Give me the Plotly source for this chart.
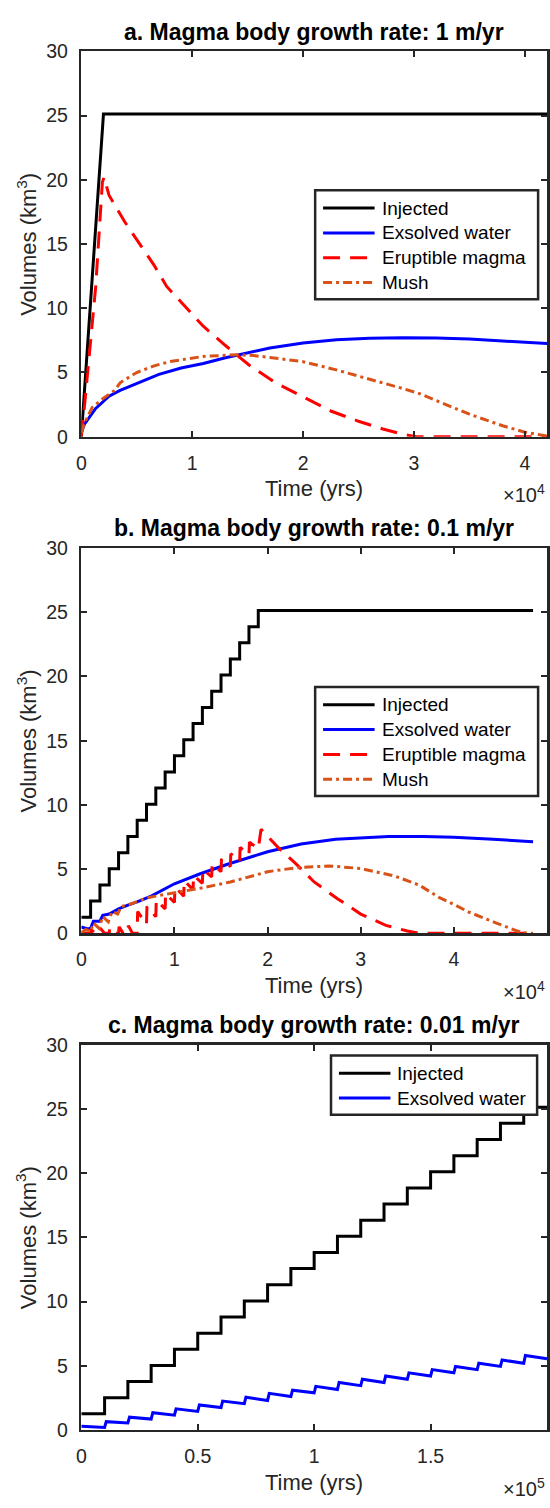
import plotly.graph_objects as go

# ---------------- data ----------------
# Panel a (1 m/yr)
inj_a_t = [0, 2000, 42000]
inj_a_v = [0, 25.13, 25.13]
wat_a_t = [0, 300, 1300, 2000, 2500, 3500, 5000, 7000, 9000, 11000, 13000, 15000, 17000, 20000, 23000, 26000, 29000, 32000, 35000, 38000, 42000]
wat_a_v = [0.3, 1.0, 2.2, 2.75, 3.15, 3.6, 4.15, 4.85, 5.35, 5.7, 6.15, 6.55, 6.9, 7.3, 7.55, 7.66, 7.7, 7.68, 7.6, 7.45, 7.25]
eru_a_t = [0, 300, 1300, 1900, 2050, 2500, 3900, 5500, 6600, 7700, 9300, 11000, 13000, 15100, 17500, 20000, 22500, 25000, 27200, 29200, 30200, 42000]
eru_a_v = [0, 2.5, 11.7, 19.8, 20.2, 18.8, 16.75, 14.7, 13.3, 11.7, 10.2, 8.6, 7.1, 5.6, 4.2, 3.1, 2.0, 1.2, 0.6, 0.15, 0, 0]
mush_a_t = [0, 300, 1000, 2000, 3000, 3500, 5000, 6500, 8000, 11000, 14000, 15500, 17000, 20000, 23000, 26000, 29000, 30500, 32000, 35000, 38000, 40000, 42000]
mush_a_v = [0.3, 1.1, 2.3, 3.0, 3.6, 4.2, 5.0, 5.5, 5.85, 6.25, 6.38, 6.32, 6.17, 5.84, 5.2, 4.5, 3.75, 3.35, 2.8, 1.75, 0.85, 0.35, 0.05]

# Panel b (0.1 m/yr)
inj_b_t = [0, 1000, 2000, 3000, 4000, 5000, 6000, 7000, 8000, 9000, 10000, 11000, 12000, 13000, 14000, 15000, 16000, 17000, 18000, 19000, 48500]
inj_b_v = [1.26, 2.51, 3.77, 5.03, 6.28, 7.54, 8.80, 10.05, 11.31, 12.57, 13.82, 15.08, 16.34, 17.59, 18.85, 20.11, 21.36, 22.62, 23.88, 25.13, 25.13]
wat_b_t = [0, 700, 1000, 1300, 2000, 2300, 3000, 4000, 5000, 6000, 7500, 10000, 12700, 15700, 20000, 23600, 27300, 30000, 33000, 36700, 40000, 44200, 48500]
wat_b_v = [0.5, 0.35, 0.4, 0.95, 0.95, 1.4, 1.5, 1.9, 2.2, 2.45, 2.9, 3.86, 4.62, 5.38, 6.35, 6.95, 7.32, 7.45, 7.55, 7.55, 7.48, 7.32, 7.14]
eru_b_t = [0, 1000, 1050, 1500, 2000, 2050, 2500, 3000, 3050, 3500, 4000, 4050, 4500, 5000, 5050, 5500,
           6000, 6050, 7000, 7050, 8000, 8050, 9000, 9050, 10000, 10050, 11000, 11050, 12000, 12050,
           13000, 13050, 14000, 14050, 15000, 15050, 16000, 16050, 17000, 17050, 18000, 18050, 19000, 19300,
           20200, 21300, 23000, 25000, 27500, 30000, 32700, 35000, 36400, 48500]
eru_b_v = [0, 0, 0.3, 0, 0, 0.4, 0, 0, 0.4, 0, 0, 0.5, 0, 0, 0.6, 0,
           0, 1.7, 0.7, 2.1, 1.3, 2.6, 1.9, 3.1, 2.4, 3.6, 2.9, 4.1, 3.4, 4.5,
           3.9, 5.0, 4.4, 5.4, 4.8, 5.8, 5.2, 6.2, 5.6, 6.7, 6.1, 7.1, 6.6, 8.1,
           7.4, 6.56, 5.45, 4.0, 2.7, 1.5, 0.62, 0.18, 0, 0]
mush_b_t = [0, 500, 1000, 1300, 1900, 2300, 2900, 3300, 3900, 4300, 5000, 6000, 7000, 8000, 10000, 12700, 16000, 20000, 23000, 26600, 30000, 33700, 36300, 38400, 40000, 41600, 44500, 46000, 47300, 48500]
mush_b_v = [0.05, 0.3, 0.15, 0.8, 0.4, 1.3, 0.9, 1.7, 1.5, 2.1, 2.2, 2.5, 2.75, 2.9, 3.15, 3.5, 4.0, 4.8, 5.1, 5.25, 5.05, 4.45, 3.75, 2.8, 2.25, 1.66, 0.82, 0.43, 0.05, 0.0]

# Panel c (0.01 m/yr)
inj_c_t = [0, 10000, 20000, 30000, 40000, 50000, 60000, 70000, 80000, 90000, 100000, 110000, 120000, 130000, 140000, 150000, 160000, 170000, 180000, 190000, 200000]
inj_c_v = [1.26, 2.51, 3.77, 5.03, 6.28, 7.54, 8.80, 10.05, 11.31, 12.57, 13.82, 15.08, 16.34, 17.59, 18.85, 20.11, 21.36, 22.62, 23.88, 25.13, 25.13]
wat_c_t = [0, 10000, 10700, 20000, 20700, 30000, 30700, 40000, 40700, 50000, 50700, 60000, 60700, 70000, 70700,
           80000, 80700, 90000, 90700, 100000, 100700, 110000, 110700, 120000, 120700, 130000, 130700,
           140000, 140700, 150000, 150700, 160000, 160700, 170000, 170700, 180000, 180700, 190000, 190700, 200000]
wat_c_v = [0.3, 0.2, 0.65, 0.55, 1.0, 0.85, 1.35, 1.15, 1.65, 1.45, 1.95, 1.75, 2.25, 2.05, 2.55,
           2.3, 2.85, 2.6, 3.1, 2.9, 3.4, 3.15, 3.7, 3.45, 3.95, 3.7, 4.2,
           3.95, 4.45, 4.2, 4.7, 4.45, 4.95, 4.7, 5.2, 4.95, 5.45, 5.2, 5.8, 5.55]

titles = ["a. Magma body growth rate: 1 m/yr",
          "b. Magma body growth rate: 0.1 m/yr",
          "c. Magma body growth rate: 0.01 m/yr"]
x_ranges = [42000, 50000, 200000]
x_tickvals = [[0, 10000, 20000, 30000, 40000],
              [0, 10000, 20000, 30000, 40000, 50000],
              [0, 50000, 100000, 150000, 200000]]
x_ticktext = [["0", "1", "2", "3", "4"],
              ["0", "1", "2", "3", "4", "5"],
              ["0", "0.5", "1", "1.5", "2"]]
exponents = ["4", "4", "5"]
y_tickvals = [0, 5, 10, 15, 20, 25, 30]

# ---------------- layout helpers ----------------
W, H = 550, 1508
X0, X1 = 77, 547
panels_px = [(41, 432), (545, 936), (1049, 1440)]   # (top, bottom)
# legend boxes: (left, right, top offset from axes top, number of rows)
legend_box = [(313, 538, 141), (313, 538, 141), (329, 537, 11)]

FONT = "Liberation Sans, Arial, Helvetica, sans-serif"
AX = "#262626"
BLUE, RED, ORANGE = "#0000FF", "#FF0000", "#D95319"
LW = 3
DASH_RED = "17px,10px"
DASH_MUSH = "9px,4px,3px,4px"

def px_x(x):
    return x / W

def px_y(y):
    return 1 - y / H

fig = go.Figure()

series = [
    [("Injected", inj_a_t, inj_a_v, "black", "solid", "linear"),
     ("Exsolved water", wat_a_t, wat_a_v, BLUE, "solid", "linear"),
     ("Eruptible magma", eru_a_t, eru_a_v, RED, DASH_RED, "linear"),
     ("Mush", mush_a_t, mush_a_v, ORANGE, DASH_MUSH, "linear")],
    [("Injected", inj_b_t, inj_b_v, "black", "solid", "hv"),
     ("Exsolved water", wat_b_t, wat_b_v, BLUE, "solid", "linear"),
     ("Eruptible magma", eru_b_t, eru_b_v, RED, DASH_RED, "linear"),
     ("Mush", mush_b_t, mush_b_v, ORANGE, DASH_MUSH, "linear")],
    [("Injected", inj_c_t, inj_c_v, "black", "solid", "hv"),
     ("Exsolved water", wat_c_t, wat_c_v, BLUE, "solid", "linear")],
]

annotations = []
shapes = []
for i in range(3):
    n = "" if i == 0 else str(i + 1)
    top, bot = panels_px[i]
    for name, t, v, col, dash, shape in series[i]:
        fig.add_trace(go.Scatter(
            x=t, y=v, mode="lines", name=name,
            line=dict(color=col, width=LW, dash=dash, shape=shape),
            xaxis="x" + n, yaxis="y" + n,
            showlegend=False, hoverinfo="skip"))
    axis_common = dict(showline=True, linecolor=AX, linewidth=2.5, mirror="ticks",
                       ticks="inside", ticklen=6, tickwidth=2, tickcolor=AX,
                       showgrid=False, zeroline=False, fixedrange=True,
                       tickfont=dict(family=FONT, size=19.5, color=AX))
    fig.update_layout(**{
        "xaxis" + n: dict(domain=[px_x(X0), px_x(X1)], range=[0, x_ranges[i]],
                          anchor="y" + n, tickmode="array", tickvals=x_tickvals[i],
                          ticktext=x_ticktext[i], ticklabelstandoff=7, **axis_common),
        "yaxis" + n: dict(domain=[px_y(bot), px_y(top)], range=[0, 30],
                          anchor="x" + n, tickmode="array", tickvals=y_tickvals,
                          ticktext=[str(v) for v in y_tickvals], ticklabelstandoff=7,
                          **axis_common),
    })

    # ---- legend box (drawn with the figure's own shapes + text) ----
    lx0, lx1, loff = legend_box[i]
    nrows = len(series[i])
    ltop = top + loff
    row_h = 25.2
    lbot = ltop + 17 + row_h * nrows - row_h / 2 + 17 - row_h / 2 + row_h / 2 - 0.5 * row_h + row_h / 2 - row_h / 2
    lbot = ltop + 18 + row_h * (nrows - 1) + 17
    shapes.append(dict(type="rect", xref="paper", yref="paper",
                       x0=px_x(lx0), x1=px_x(lx1), y0=px_y(lbot), y1=px_y(ltop),
                       line=dict(color=AX, width=2.5), fillcolor="white", layer="above"))
    for j, (name, t, v, col, dash, shape) in enumerate(series[i]):
        yc = ltop + 18 + row_h * j
        shapes.append(dict(type="line", xref="paper", yref="paper",
                           x0=px_x(lx0 + 8), x1=px_x(lx0 + 60), y0=px_y(yc), y1=px_y(yc),
                           line=dict(color=col, width=LW, dash=dash), layer="above"))
        annotations.append(dict(text=name, x=px_x(lx0 + 65), y=px_y(yc),
                                xref="paper", yref="paper", showarrow=False,
                                xanchor="left", yanchor="middle",
                                font=dict(family=FONT, size=19, color="black")))

    # title
    annotations.append(dict(text="<b>" + titles[i] + "</b>", x=px_x((X0 + X1) / 2), y=px_y(top - 20),
                            xref="paper", yref="paper", showarrow=False,
                            xanchor="center", yanchor="middle",
                            font=dict(family=FONT, size=23, color="black")))
    # x label
    annotations.append(dict(text="Time (yrs)", x=px_x((X0 + X1) / 2), y=px_y(bot + 53),
                            xref="paper", yref="paper", showarrow=False,
                            xanchor="center", yanchor="middle",
                            font=dict(family=FONT, size=22, color=AX)))
    # exponent
    annotations.append(dict(text="\u00d710<sup>" + exponents[i] + "</sup>", x=px_x(X1), y=px_y(bot + 58),
                            xref="paper", yref="paper", showarrow=False,
                            xanchor="right", yanchor="middle",
                            font=dict(family=FONT, size=20, color=AX)))
    # y label
    annotations.append(dict(text="Volumes (km<sup>3</sup>)", x=px_x(22), y=px_y((top + bot) / 2),
                            xref="paper", yref="paper", showarrow=False, textangle=-90,
                            xanchor="center", yanchor="middle",
                            font=dict(family=FONT, size=22, color=AX)))

fig.update_layout(width=W, height=H, margin=dict(l=0, r=0, t=0, b=0),
                  paper_bgcolor="white", plot_bgcolor="white",
                  annotations=annotations, shapes=shapes, showlegend=False)

fig.write_html("out.html",
               config={"displayModeBar": False, "staticPlot": True},
               post_script="document.body.style.margin='0';"
                           "document.documentElement.style.overflow='hidden';"
                           "document.body.style.overflow='hidden';")
